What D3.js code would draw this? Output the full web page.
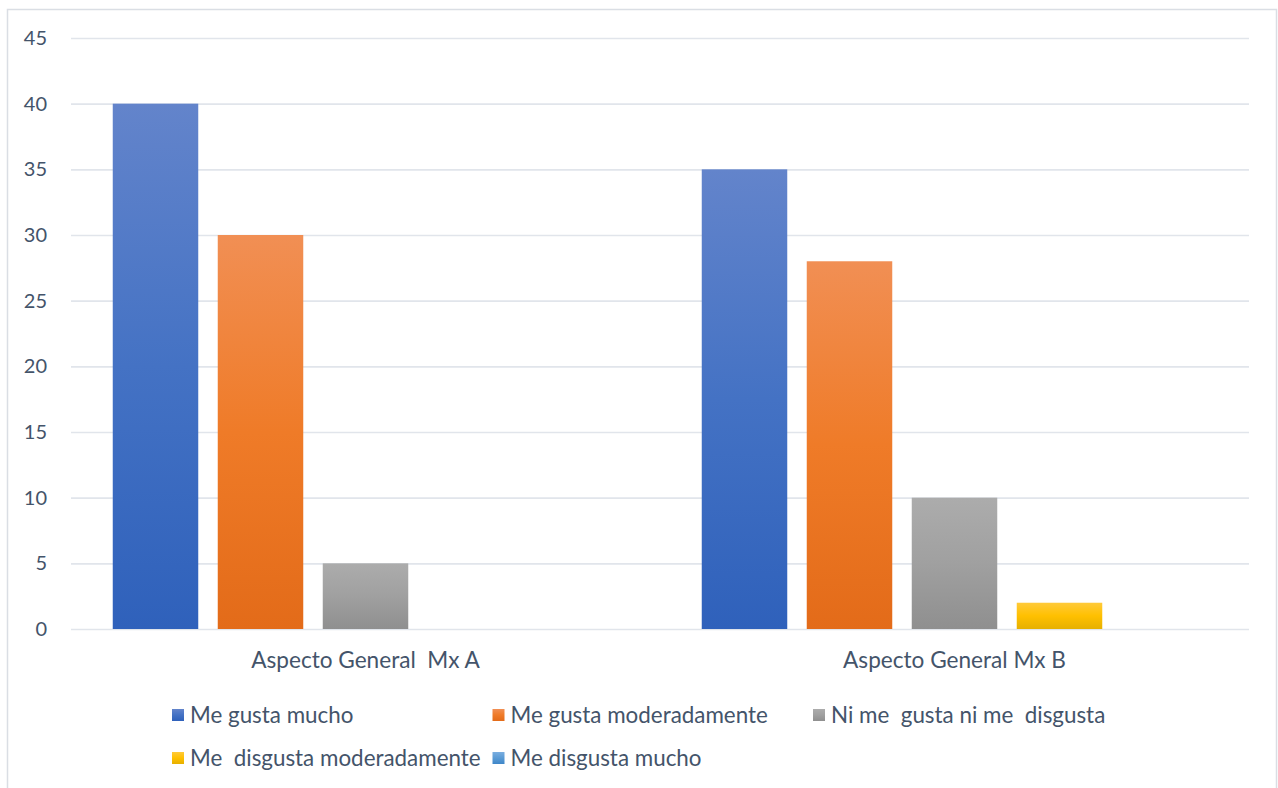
<!DOCTYPE html>
<html>
<head>
<meta charset="utf-8">
<script src="https://cdn.jsdelivr.net/npm/d3@7"></script>
<style>
  html, body { margin: 0; padding: 0; background: #ffffff; }
  svg { display: block; }
  text { font-family: Lato, "Liberation Sans", Arial, sans-serif; fill: #44546a; }
</style>
</head>
<body>
<svg id="chart" width="1278" height="788"></svg>
<script>
// Survey categories and answer series
const categories = ["Aspecto General  Mx A", "Aspecto General Mx B"];
const seriesNames = [
  "Me gusta mucho",
  "Me gusta moderadamente",
  "Ni me  gusta ni me  disgusta",
  "Me  disgusta moderadamente",
  "Me disgusta mucho"
];
const valuesMxA = [40, 30, 5, 0, 0];
const valuesMxB = [35, 28, 10, 2, 0];
const yTicks = [0, 5, 10, 15, 20, 25, 30, 35, 40, 45];

// Gradient stops per series: light top, base middle, darker bottom
const seriesGradients = [
  ["#6384cb", "#4472c4", "#2f61bb"],
  ["#f18f54", "#ef7b28", "#e36b19"],
  ["#acacac", "#a0a0a0", "#8f8f8f"],
  ["#ffca3a", "#ffc000", "#e6b000"],
  ["#7aaee0", "#5b9bd5", "#3f86c8"]
];

const rows = [valuesMxA, valuesMxB];
const FONT = "Lato, 'Liberation Sans', Arial, sans-serif";

const svg = d3.select("#chart");

// Chart frame
svg.append("rect")
  .attr("x", 7.5).attr("y", 9.5)
  .attr("width", 1269).attr("height", 800)
  .attr("fill", "#ffffff")
  .attr("stroke", "#dadee4").attr("stroke-width", 1.5);

const plot = { left: 71, right: 1249, top: 38, bottom: 629 };

const x0 = d3.scaleBand()
  .domain(categories)
  .range([plot.left, plot.right])
  .padding(0);

const x1 = d3.scaleBand()
  .domain(seriesNames)
  .range([0, x0.bandwidth()])
  .paddingInner(0.1857)
  .paddingOuter(0.3976);

const y = d3.scaleLinear()
  .domain([0, 45])
  .range([plot.bottom, plot.top]);

// Gradients
const defs = svg.append("defs");
seriesGradients.forEach((stops, i) => {
  const g = defs.append("linearGradient")
    .attr("id", "grad" + i)
    .attr("x1", 0).attr("y1", 0).attr("x2", 0).attr("y2", 1);
  g.append("stop").attr("offset", "0%").attr("stop-color", stops[0]);
  g.append("stop").attr("offset", "50%").attr("stop-color", stops[1]);
  g.append("stop").attr("offset", "100%").attr("stop-color", stops[2]);
});

// Gridlines and y tick labels
const yAxis = d3.axisLeft(y)
  .tickValues(yTicks)
  .tickSize(-(plot.right - plot.left))
  .tickPadding(24);

const gy = svg.append("g")
  .attr("transform", `translate(${plot.left},0)`)
  .call(yAxis)
  .attr("font-family", FONT)
  .attr("font-size", 20);
gy.select(".domain").remove();
gy.selectAll(".tick line")
  .attr("stroke", "#e1e5eb").attr("stroke-width", 1.6);
gy.selectAll(".tick text")
  .attr("fill", "#44546a");

// Bars
const groups = svg.append("g")
  .selectAll("g")
  .data(categories)
  .join("g")
  .attr("transform", d => `translate(${x0(d)},0)`);

groups.selectAll("rect")
  .data((c, ci) => seriesNames.map((s, si) => ({ s, si, v: rows[ci][si] })))
  .join("rect")
  .attr("x", d => x1(d.s))
  .attr("y", d => y(d.v))
  .attr("width", x1.bandwidth())
  .attr("height", d => y(0) - y(d.v))
  .attr("fill", d => `url(#grad${d.si})`);

// Category labels
const xAxis = d3.axisBottom(x0).tickSize(0).tickPadding(23);
const gx = svg.append("g")
  .attr("transform", `translate(0,${plot.bottom})`)
  .call(xAxis)
  .attr("font-family", FONT)
  .attr("font-size", 22.6);
gx.select(".domain").remove();
gx.selectAll(".tick text")
  .attr("fill", "#44546a")
  .style("white-space", "pre");

// Legend: three columns, wraps to a second row
const legendX = d3.scaleLinear().domain([0, 2]).range([172, 813]);
const legendY = d3.scaleLinear().domain([0, 1]).range([715, 758]);

const legend = svg.append("g")
  .selectAll("g")
  .data(seriesNames)
  .join("g")
  .attr("transform", (d, i) => `translate(${legendX(i % 3)},${legendY(Math.floor(i / 3))})`);

legend.append("rect")
  .attr("x", 0).attr("y", -6)
  .attr("width", 12).attr("height", 12)
  .attr("fill", (d, i) => `url(#grad${i})`);

legend.append("text")
  .attr("x", 18)
  .attr("y", 0)
  .attr("dy", "0.35em")
  .attr("font-size", 22.4)
  .attr("font-family", FONT)
  .style("white-space", "pre")
  .text(d => d);
</script>
</body>
</html>
